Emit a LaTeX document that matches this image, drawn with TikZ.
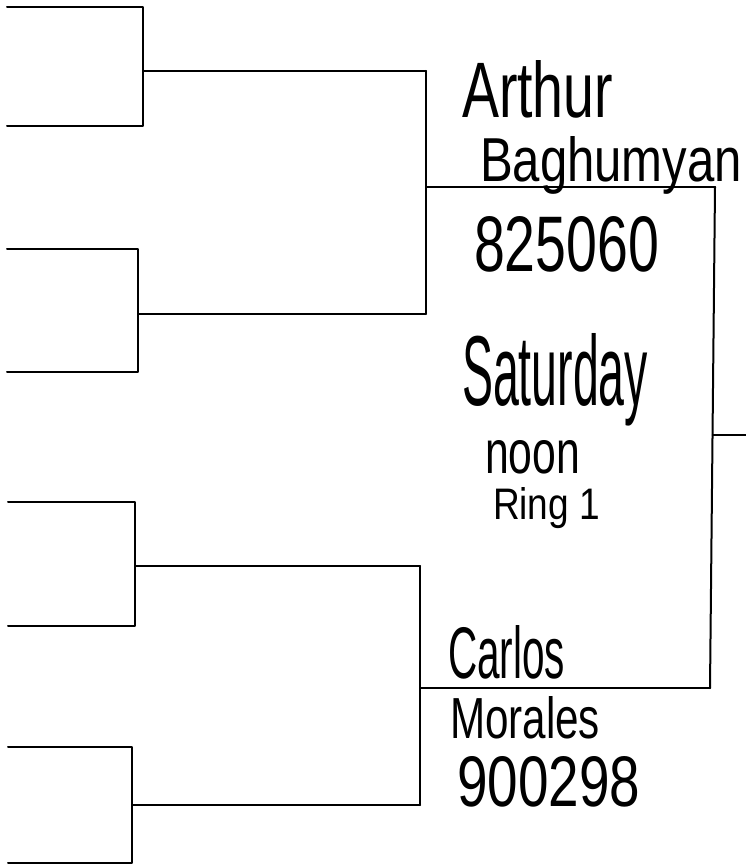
\documentclass[tikz,border=0pt]{standalone}
\usepackage{fontspec}
\setmainfont{Liberation Sans}
\usepackage{graphicx}
\begin{document}
\begin{tikzpicture}[x=1pt,y=-1pt,
  bline/.style={line width=2pt,line join=round,line cap=round},
  hand/.style={anchor=base west,inner sep=0pt,outer sep=0pt}]
\useasboundingbox (0,0) rectangle (746,867);
% coordinates
\coordinate (a1) at (7,7);   \coordinate (a1c) at (143,7);
\coordinate (a2) at (7,126); \coordinate (a2c) at (143,126);
\coordinate (am) at (143,71); \coordinate (ae) at (426,71);
\coordinate (b1) at (7,249);   \coordinate (b1c) at (138,249);
\coordinate (b2) at (7,372);   \coordinate (b2c) at (138,372);
\coordinate (bm) at (138,314); \coordinate (be) at (426,314);
\coordinate (abm) at (426,187); \coordinate (abe) at (715,187);
\coordinate (c1) at (8,502);   \coordinate (c1c) at (135,502);
\coordinate (c2) at (8,626);   \coordinate (c2c) at (135,626);
\coordinate (cm) at (135,566); \coordinate (ce) at (420,566);
\coordinate (d1) at (8,747);   \coordinate (d1c) at (132,747);
\coordinate (d2) at (8,863);   \coordinate (d2c) at (132,863);
\coordinate (dm) at (132,805); \coordinate (de) at (420,805);
\coordinate (cdm) at (420,688); \coordinate (cde) at (710,688);
\coordinate (fm) at (712.5,435); \coordinate (fe) at (746,435);
% bracket lines
\draw[bline] (a1) -- (a1c) -- (a2c) -- (a2);
\draw[bline] (am) -- (ae);
\draw[bline] (b1) -- (b1c) -- (b2c) -- (b2);
\draw[bline] (bm) -- (be);
\draw[bline] (ae) -- (be);
\draw[bline] (abm) -- (abe);
\draw[bline] (c1) -- (c1c) -- (c2c) -- (c2);
\draw[bline] (cm) -- (ce);
\draw[bline] (d1) -- (d1c) -- (d2c) -- (d2);
\draw[bline] (dm) -- (de);
\draw[bline] (ce) -- (de);
\draw[bline] (cdm) -- (cde);
\draw[bline] (abe) -- (cde);
\draw[bline] (fm) -- (fe);
% texts
\node[hand] (t1) at (462,117) {\resizebox{151pt}{57pt}{Arthur}};
\node[hand] (t2) at (480,181) {\resizebox{262pt}{45pt}{Baghumyan}};
\node[hand] (t3) at (474,271) {\resizebox{185pt}{55pt}{825060}};
\node[hand] (t4) at (462,405) {\resizebox{186pt}{72pt}{Saturday}};
\node[hand] (t5) at (485,473) {\resizebox{95pt}{33pt}{noon}};
\node[hand] (t6) at (493,519) {\resizebox{107pt}{32pt}{Ring 1}};
\node[hand] (t7) at (448,678) {\resizebox{117pt}{53pt}{Carlos}};
\node[hand] (t8) at (450,738) {\resizebox{150pt}{42pt}{Morales}};
\node[hand] (t9) at (457,806) {\resizebox{183pt}{50pt}{900298}};
\end{tikzpicture}
\end{document}
